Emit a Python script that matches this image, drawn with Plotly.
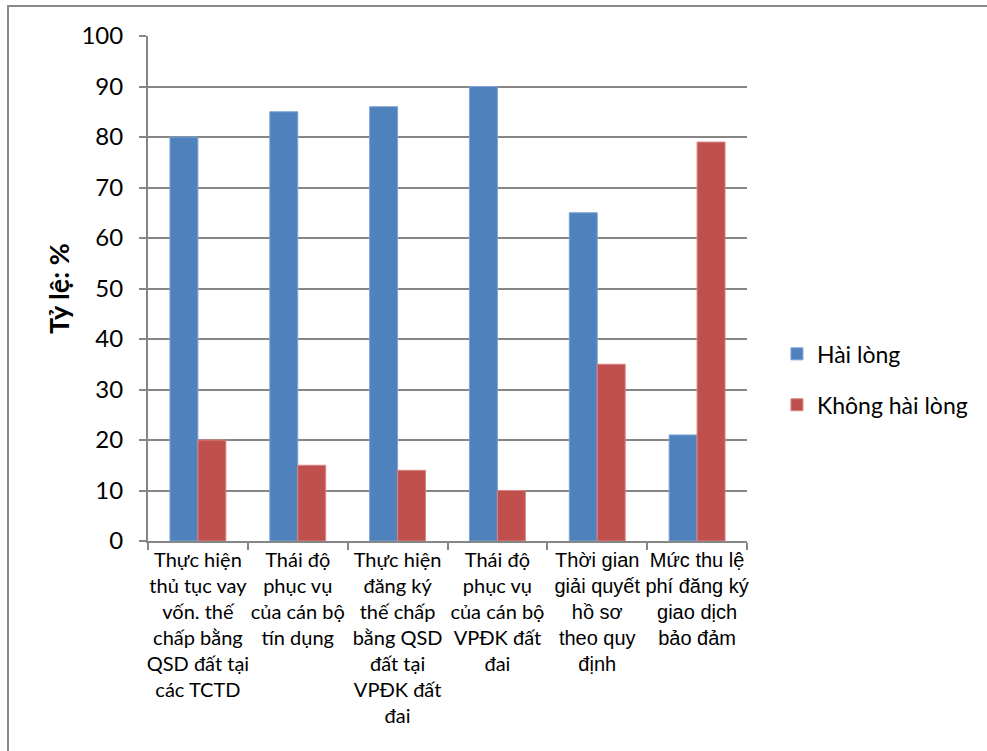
import plotly.graph_objects as go

ARIAL = "font-family:Liberation Sans"


def arial(*lines):
    # wrap every line on its own so the face survives the line breaks
    return "<br>".join(f"<span style=\"{ARIAL}\">{ln}</span>" for ln in lines)


# Survey categories (x axis) — the last two use an Arial-style face
categories = [
    "Thực hiện<br>thủ tục vay<br>vốn. thế<br>chấp bằng<br>QSD đất tại<br>các TCTD",
    "Thái độ<br>phục vụ<br>của cán bộ<br>tín dụng",
    "Thực hiện<br>đăng ký<br>thế chấp<br>bằng QSD<br>đất tại<br>VPĐK đất<br>đai",
    "Thái độ<br>phục vụ<br>của cán bộ<br>VPĐK đất<br>đai",
    arial("Thời gian", "giải quyết", "hồ sơ", "theo quy", "định"),
    arial("Mức thu lệ", "phí đăng ký", "giao dịch", "bảo đảm"),
]

# Percentages per category
hai_long = [80, 85, 86, 90, 65, 21]
khong_hai_long = [20, 15, 14, 10, 35, 79]

y_ticks = list(range(0, 101, 10))

GRID = "#868686"
FONT = "Lato, 'Open Sans', sans-serif"

fig = go.Figure()
fig.add_trace(go.Bar(
    x=categories, y=hai_long, name="Hài lòng",
    marker=dict(color="#4F81BD", line=dict(color="#7EA3D3", width=1)),
    legendgroup="a",
))
fig.add_trace(go.Bar(
    x=categories, y=khong_hai_long, name="Không hài lòng",
    marker=dict(color="#C0504D", line=dict(color="#D98582", width=1)),
    legendgroup="b",
))

fig.update_layout(
    width=987, height=751,
    margin=dict(l=148, r=240, t=36, b=210),
    paper_bgcolor="white", plot_bgcolor="white",
    barmode="group", bargap=0.44, bargroupgap=0,
    font=dict(family=FONT, color="black"),
    showlegend=True,
    legend=dict(
        x=1.05, y=0.32, xanchor="left", yanchor="middle",
        font=dict(size=23, family=FONT, color="black"),
        traceorder="grouped", tracegroupgap=18,
        itemwidth=30,
    ),
    xaxis=dict(
        type="category",
        tickson="boundaries", ticks="outside", ticklen=7,
        tickcolor=GRID, tickwidth=2,
        showline=True, linecolor=GRID, linewidth=2,
        showgrid=False,
        tickfont=dict(size=20, family=FONT, color="black"),
        tickangle=0,
    ),
    yaxis=dict(
        range=[0, 100], tickvals=y_ticks,
        ticks="outside", ticklen=7, tickcolor=GRID, tickwidth=2,
        showline=True, linecolor=GRID, linewidth=2,
        showgrid=True, gridcolor=GRID, gridwidth=2,
        zeroline=False,
        tickfont=dict(size=24, family=FONT, color="black"),
        ticklabelstandoff=11,
        title=dict(text="<b>Tỷ lệ: %</b>", font=dict(size=27, family=FONT, color="black"),
                   standoff=4),
    ),
)

# Chart frame around the whole figure
fig.add_shape(
    type="rect", xref="paper", yref="paper",
    x0=(8 - 148) / 599, x1=1.5, y0=-0.6, y1=(541 - 6) / 505,
    line=dict(color="#8a8a8a", width=2), layer="below",
)

fig.write_html("out.html")
